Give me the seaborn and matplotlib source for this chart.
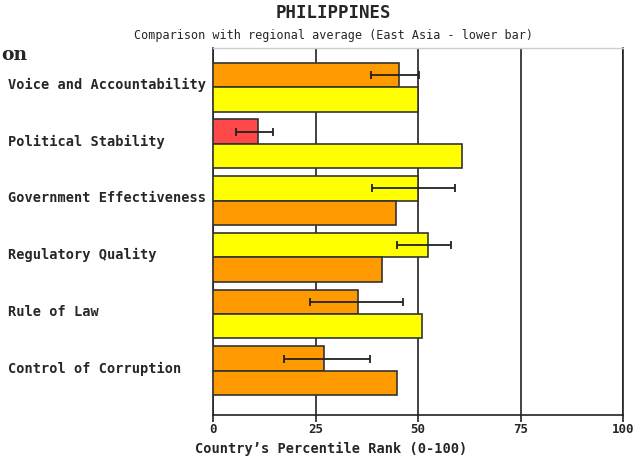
import pandas as pd
import numpy as np
import seaborn as sns
import matplotlib.pyplot as plt

indicators = ['Voice and Accountability', 'Political Stability', 'Government Effectiveness',
              'Regulatory Quality', 'Rule of Law', 'Control of Corruption']
country = [45.4, 10.9, 50.0, 52.5, 35.4, 27.0]
err_low = [38.5, 5.5, 38.8, 44.9, 23.7, 17.4]
err_high = [50.3, 14.7, 59.0, 58.1, 46.3, 38.3]
region = [50.0, 60.7, 44.6, 41.1, 50.9, 44.9]
xticks = [0, 25, 50, 75, 100]


def rank_color(v):
    # WGI style colour bands
    if v < 10:
        return '#c81e1e'
    if v < 25:
        return '#ff4848'
    if v < 50:
        return '#ff9900'
    if v < 75:
        return '#ffff00'
    return '#99cc33'


def main():
    df = pd.DataFrame({
        'Indicator': indicators * 2,
        'Rank': country + region,
        'Who': ['Philippines'] * len(indicators) + ['East Asia'] * len(indicators),
    })

    sns.set_style('white')
    fig = plt.figure(figsize=(6.42, 4.61), dpi=100)
    ax = fig.add_axes([213 / 642, 1 - 415 / 461, 410 / 642, 367 / 461])

    sns.barplot(data=df, y='Indicator', x='Rank', hue='Who', order=indicators,
                hue_order=['Philippines', 'East Asia'], orient='h', width=0.86, gap=0,
                errorbar=None, legend=False, ax=ax, zorder=3)

    vals = country + region
    for p, v in zip(ax.patches[:len(vals)], vals):
        p.set_facecolor(rank_color(v))
        p.set_edgecolor('#333333')
        p.set_linewidth(1.2)

    # error bars on the country bars (upper bar of each pair)
    ys = [p.get_y() + p.get_height() / 2 for p in ax.patches[:len(country)]]
    xs = np.array(country)
    xerr = [xs - np.array(err_low), np.array(err_high) - xs]
    ax.errorbar(xs, ys, xerr=xerr, fmt='none', ecolor='#222222', elinewidth=1.3,
                capsize=3, capthick=1.3, zorder=4)

    ax.set_xlim(0, 100)
    ax.set_ylim(5.78, -0.69)
    ax.set_xticks(xticks)
    ax.set_xticklabels([str(t) for t in xticks], fontfamily='DejaVu Sans Mono',
                       fontweight='bold', fontsize=9)
    ax.grid(axis='x', color='#222222', linewidth=1.2, zorder=0)
    ax.grid(axis='y', visible=False)
    ax.set_axisbelow(True)
    ax.tick_params(axis='x', length=5, width=1.2, color='#222222', pad=1, bottom=True)
    ax.tick_params(axis='y', length=0, pad=147.5)
    # labels sit a touch above the pair centre in the reference
    ax.set_yticks(np.arange(len(indicators)) - 0.04)
    ax.set_yticklabels(indicators, ha='left', va='center', fontfamily='DejaVu Sans Mono',
                       fontweight='bold', fontsize=9.8)

    for side in ['left', 'right', 'bottom']:
        ax.spines[side].set_color('#222222')
        ax.spines[side].set_linewidth(1.2)
    ax.spines['top'].set_color('#cccccc')
    ax.spines['top'].set_linewidth(1.0)

    ax.set_ylabel('')
    ax.set_xlabel("Country\u2019s Percentile Rank (0-100)", fontfamily='DejaVu Sans Mono',
                  fontweight='bold', fontsize=9.8)
    ax.xaxis.set_label_coords((331 - 213) / 410, -27 / 367)

    fig.text(333 / 642, 1 - 13 / 461, 'PHILIPPINES', ha='center', va='center',
             fontfamily='DejaVu Sans Mono', fontweight='bold', fontsize=12.5)
    fig.text(333 / 642, 1 - 35 / 461, 'Comparison with regional average (East Asia - lower bar)',
             ha='center', va='center', fontfamily='DejaVu Sans Mono', fontsize=8.5)
    fig.text(1 / 642, 1 - 55 / 461, 'on', ha='left', va='center', fontfamily='DejaVu Serif',
             fontweight='bold', fontsize=13.5)

    fig.savefig('out.png', dpi=100)


if __name__ == "__main__":
    main()
